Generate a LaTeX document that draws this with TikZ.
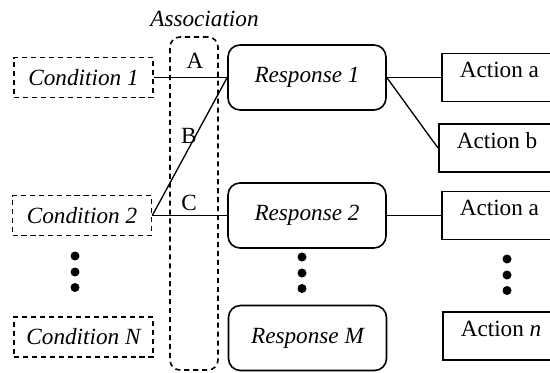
\documentclass[tikz,border=0pt]{standalone}
\usepackage{fontspec}
\setmainfont{LiberationSerif}[Extension=.ttf, UprightFont=*-Regular, ItalicFont=*-Italic, BoldFont=*-Bold]
\usetikzlibrary{positioning}
\newcommand{\figfont}{\fontsize{13.2}{15}\selectfont}
\tikzset{
  cond/.style={draw, dash pattern=on 2.9pt off 2.2pt, line width=0.9pt, minimum width=2.78cm, minimum height=0.8cm, inner sep=0pt, font=\figfont\itshape},
  resp/.style={draw, rounded corners=0.24cm, line width=0.9pt, minimum width=3.16cm, minimum height=1.3cm, inner sep=0pt, font=\figfont\itshape},
  act/.style={draw, line width=0.9pt, anchor=west, inner xsep=0.36cm, inner ysep=0pt, text height=0.48cm, text depth=0.48cm, font=\figfont},
  lnk/.style={line width=0.75pt},
  lbl/.style={font=\figfont},
}
\begin{document}
\begin{tikzpicture}
    \useasboundingbox (0,0) rectangle (11,7.44);
    \clip (0,0) rectangle (11,7.44);
    %Association band
    \node[draw, dash pattern=on 2.9pt off 2.2pt, line width=0.9pt, rounded corners=0.2cm, minimum width=0.96cm, minimum height=6.66cm] (assoc) at (3.88,3.37) {};
    \node[font=\figfont\itshape] (assoclbl) at (4.09,7.06) {Association};
    %Conditions
    \node[cond] (c1) at (1.67,5.89) {Condition 1};
    \node[cond] (c2) at (1.64,3.13) {Condition 2};
    \node[cond] (cn) at (1.67,0.70) {Condition N};
    %Responses
    \node[resp] (r1) at (6.14,5.89) {Response 1};
    \node[resp] (r2) at (6.14,3.13) {Response 2};
    \node[resp] (rm) at (6.15,0.68) {Response M};
    %Actions
    \node[act] (a1) at (8.82,5.89) {Action a};
    \node[act] (ab) at (8.76,4.48) {Action b};
    \node[act] (a2) at (8.82,3.13) {Action a};
    \node[act] (an) at (8.84,0.72) {Action \textit{n}};
    %Links
    \draw[lnk] (c1.east) -- node[lbl, above, pos=0.56, inner sep=5pt] (lblA) {A} (r1.west);
    \draw[lnk] (c2.east) -- node[lbl, pos=0.58, xshift=-0.14cm] (lblB) {B} (r1.west);
    \draw[lnk] (c2.east) -- node[lbl, above, pos=0.49, inner sep=2.3pt] (lblC) {C} (r2.west);
    \draw[lnk] (r1.east) -- (a1.west);
    \draw[lnk] (r1.east) -- (ab.west);
    \draw[lnk] (r2.east) -- (a2.west);
    %Dots
    \foreach \x/\y in {1.50/2.32, 6.04/2.30, 10.14/2.26} {
        \fill (\x,\y) circle (0.09) (\x,\y-0.32) circle (0.09) (\x,\y-0.63) circle (0.09);
    }
\end{tikzpicture}
\end{document}
